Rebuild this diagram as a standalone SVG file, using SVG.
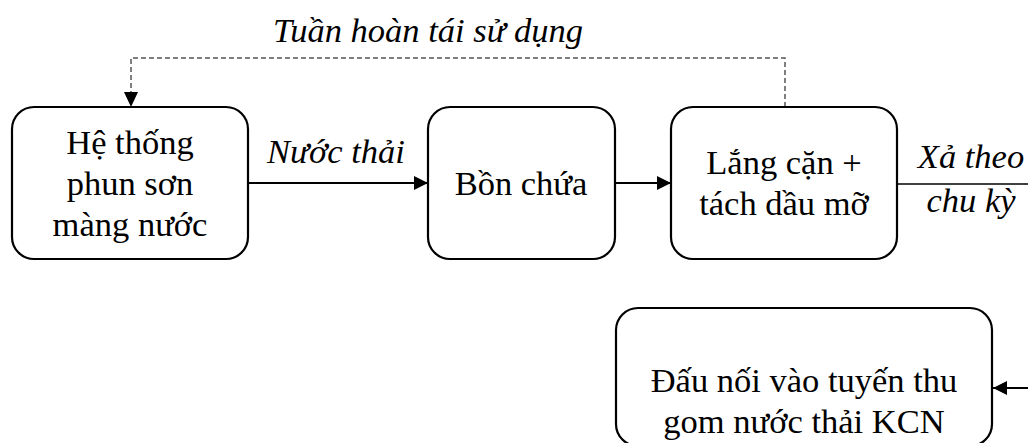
<svg xmlns="http://www.w3.org/2000/svg" width="1028" height="443" viewBox="0 0 1028 443">
<style>
.box{fill:#fff;stroke:#000;stroke-width:2.2}
.t{font-family:'Liberation Serif',serif;font-size:34.5px;fill:#000;text-anchor:middle}
.i{font-style:italic}
.ln{fill:none;stroke:#000;stroke-width:2}
.dash{fill:none;stroke:#555;stroke-width:1.5;stroke-dasharray:5,3}
</style>
<defs>
<marker id="ah" viewBox="0 0 14 14" refX="14" refY="7" markerWidth="14" markerHeight="14" markerUnits="userSpaceOnUse" orient="auto">
<path d="M0,0 L14,7 L0,14 Z" fill="#000"/>
</marker>
</defs>
<g id="connectors">
<polyline class="dash" points="785,107 785,58 131,58 131,94"/>
<path d="M124,92 L138,92 L131,107 Z" fill="#000"/>
<line class="ln" x1="248" y1="183" x2="428" y2="183" marker-end="url(#ah)"/>
<line class="ln" x1="615" y1="183" x2="671" y2="183" marker-end="url(#ah)"/>
<line x1="897" y1="184" x2="1028" y2="184" stroke="#000" stroke-width="1.3"/>
<line class="ln" x1="1028" y1="388" x2="993" y2="388" marker-end="url(#ah)"/>
<text class="t i" x="428" y="42">Tuần hoàn tái sử dụng</text>
<text class="t i" x="336" y="163">Nước thải</text>
<text class="t i" x="971" y="168">Xả theo</text>
<text class="t i" x="971" y="212">chu kỳ</text>
</g>
<g id="node1">
<rect class="box" x="12" y="107" width="236" height="152" rx="22"/>
<text class="t" x="130" y="154">Hệ thống</text>
<text class="t" x="130" y="195">phun sơn</text>
<text class="t" x="130" y="236">màng nước</text>
</g>
<g id="node2">
<rect class="box" x="428" y="107" width="187" height="152" rx="22"/>
<text class="t" x="521" y="195">Bồn chứa</text>
</g>
<g id="node3">
<rect class="box" x="671" y="107" width="226" height="152" rx="22"/>
<text class="t" x="784" y="174">Lắng cặn +</text>
<text class="t" x="784" y="215">tách dầu mỡ</text>
</g>
<g id="node4">
<rect class="box" x="616" y="308" width="376" height="138" rx="22"/>
<text class="t" x="804" y="392">Đấu nối vào tuyến thu</text>
<text class="t" x="804" y="433">gom nước thải KCN</text>
</g>
</svg>
